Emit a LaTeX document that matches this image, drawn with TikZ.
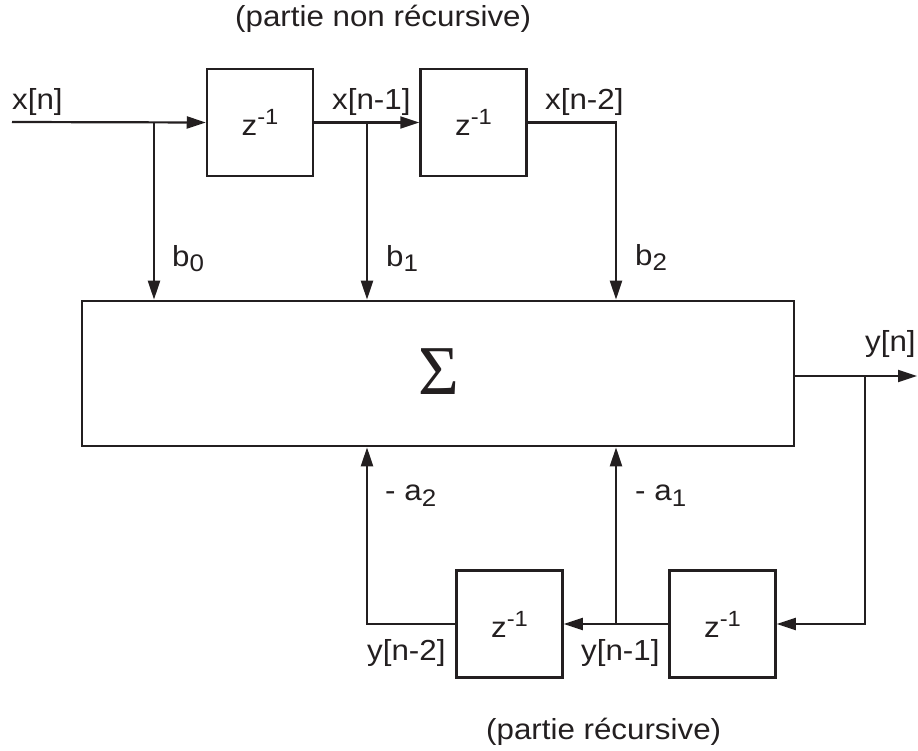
\documentclass[tikz,border=0pt]{standalone}
\usepackage{fontspec}
\setmainfont{Liberation Sans}[FakeStretch=1.08]
\newfontfamily\sigmafont{Liberation Serif}
\usetikzlibrary{arrows.meta}
\definecolor{ink}{RGB}{35,31,32}
\newcommand\lowsub[2][5pt]{\raisebox{-#1}{\fontsize{24}{24}\selectfont #2}}
\newcommand\hisup[1]{\raisebox{11pt}{\fontsize{22}{22}\selectfont #1}}
\begin{document}
\begin{tikzpicture}[x=1pt,y=-1pt,
  wire/.style={line width=2.2pt, draw=ink},
  arr/.style={wire, -{Triangle[length=19pt,width=12pt]}},
  blk/.style={draw=ink, line width=2.5pt, minimum width=106pt, minimum height=107pt, inner sep=0pt, text=ink, font=\fontsize{29}{32}\selectfont},
  lab/.style={font=\fontsize{29}{32}\selectfont, inner sep=0pt, anchor=base west, text=ink}]
\useasboundingbox (0,0) rectangle (918,751);
% blocks
\node[blk] (zt1) at (260,122.5) {z\hisup{-1}};
\node[blk] (zt2) at (473.5,122.5) {z\hisup{-1}};
\node[blk, minimum width=712pt, minimum height=145pt, line width=2.7pt] (sum) at (438,373.5) {};
\node[text=ink, inner sep=0pt] (sig) at (439,372) {\sigmafont\fontsize{70}{70}\selectfont Σ};
\node[blk] (zb1) at (509.5,624) {z\hisup{-1}};
\node[blk] (zb2) at (722.5,624) {z\hisup{-1}};
% coordinates
\coordinate (xin) at (12,122);
\coordinate (j0) at (154,122);
\coordinate (j1) at (367,122);
\coordinate (j2) at (616,122);
\coordinate (yout) at (917,376);
\coordinate (jy) at (865,376);
\coordinate (k1) at (616,624);
\coordinate (k2) at (367,624);
% wires
\draw[arr] (xin) -- (zt1.west);
\draw[arr] (zt1.east) -- (zt2.west);
\draw[arr] (zt2.east) -| (j2 |- sum.north);
\draw[arr] (j0) -- (j0 |- sum.north);
\draw[arr] (j1) -- (j1 |- sum.north);
\draw[arr] (sum.east |- yout) -- (yout);
\draw[arr] (jy) |- (zb2.east);
\draw[arr] (zb2.west) -- (zb1.east);
\draw[arr] (k1) -- (k1 |- sum.south);
\draw[arr] (zb1.west) -| (k2 |- sum.south);
% labels
\node[lab] (lx0) at (12,110) {x[n]};
\node[lab] (lx1) at (332,110) {x[n-1]};
\node[lab] (lx2) at (545,110) {x[n-2]};
\node[lab] (lb0) at (172,267) {b\lowsub{0}};
\node[lab] (lb1) at (386,267) {b\lowsub{1}};
\node[lab] (lb2) at (635,266) {b\lowsub{2}};
\node[lab] (la2) at (385,500) {- a\lowsub[6pt]{2}};
\node[lab] (la1) at (635,500) {- a\lowsub[6pt]{1}};
\node[lab] (ly2) at (367,660) {y[n-2]};
\node[lab] (ly1) at (581,660) {y[n-1]};
\node[lab] (ly0) at (865,351) {y[n]};
\node[lab] (t1) at (235,27) {(partie non récursive)};
\node[lab] (t2) at (486,739) {(partie récursive)};
\end{tikzpicture}
\end{document}
